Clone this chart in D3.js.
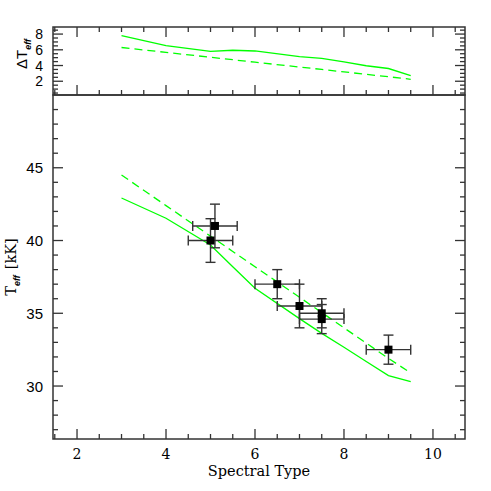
<!DOCTYPE html>
<html>
<head>
<meta charset="utf-8">
<script src="https://cdn.jsdelivr.net/npm/d3@7"></script>
<style>
    body { margin: 0; background: #fff; }
    #chart { width: 491px; height: 491px; }
    .ytick { font-family: "Liberation Sans", Arial, sans-serif; font-size: 15px; fill: #000; }
    .xtick { font-family: "DejaVu Serif", serif; font-size: 14px; fill: #000; }
</style>
</head>
<body>
<div id="chart"></div>
<script>
//Datos
const spType = [3, 4, 5, 5.5, 6, 7, 7.5, 8, 8.5, 9, 9.5];
const teffSolid = [42.92, 41.53, 39.69, 38.2, 36.72, 34.63, 33.62, 32.67, 31.69, 30.72, 30.3];
const teffDashed = [44.5, 42.4, 40.3, 39.25, 38.2, 36.1, 35.05, 34.0, 32.95, 31.9, 30.9];
const dTeffSolid = [7.79, 6.52, 5.81, 5.94, 5.85, 5.12, 4.92, 4.45, 3.97, 3.62, 2.71];
const dTeffDashed = [6.29, 5.67, 5.05, 4.74, 4.42, 3.81, 3.5, 3.19, 2.88, 2.57, 2.25];

const obsSp = [5.1, 5.0, 6.5, 7.0, 7.5, 7.5, 9.0];
const obsTeff = [41.0, 40.0, 37.0, 35.5, 35.0, 34.6, 32.5];
const obsSpErr = [0.5, 0.5, 0.5, 0.5, 0.5, 0.5, 0.5];
const obsTeffErr = [1.5, 1.5, 1.0, 1.5, 1.0, 1.0, 1.0];

const xTicks = [2, 4, 6, 8, 10];
const yTicksMain = [30, 35, 40, 45];
const yTicksTop = [2, 4, 6, 8];

const GREEN = '#00ff00', AXIS = '#333';

let left = 53, right = 465, topY = 27, midY = 95, bottomY = 439;

let svg = d3.select('#chart').append('svg')
    .attr('width', 491).attr('height', 491);

let x = d3.scaleLinear().domain([1.46, 10.72]).range([left, right]);
let y = d3.scaleLinear().domain([26.36, 50]).range([bottomY, midY]);
let yTop = d3.scaleLinear().domain([0.25, 8.9]).range([midY, topY]);

// ticks hacia dentro
function ticksX(yPos, dir) {
    let g = svg.append('g');
    d3.range(1.5, 10.51, 0.5).forEach(function(v) {
        let major = xTicks.indexOf(v) != -1;
        g.append('line')
            .attr('x1', x(v)).attr('x2', x(v))
            .attr('y1', yPos).attr('y2', yPos + dir * (major ? 10 : 5))
            .attr('stroke', AXIS).attr('stroke-width', 1.3);
    });
}

function ticksY(scale, values, majors) {
    let g = svg.append('g');
    values.forEach(function(v) {
        let major = majors.indexOf(v) != -1;
        let l = major ? 10 : 5;
        g.append('line').attr('x1', left).attr('x2', left + l)
            .attr('y1', scale(v)).attr('y2', scale(v))
            .attr('stroke', AXIS).attr('stroke-width', 1.3);
        g.append('line').attr('x1', right).attr('x2', right - l)
            .attr('y1', scale(v)).attr('y2', scale(v))
            .attr('stroke', AXIS).attr('stroke-width', 1.3);
    });
}

ticksX(topY, 1);
ticksX(midY, -1);
ticksX(bottomY, -1);
ticksY(y, d3.range(27, 50, 1), yTicksMain);
ticksY(yTop, d3.range(0.5, 8.9, 0.5), yTicksTop);

// marcos
svg.append('rect').attr('x', left).attr('y', topY)
    .attr('width', right - left).attr('height', midY - topY)
    .attr('fill', 'none').attr('stroke', AXIS).attr('stroke-width', 1.5);
svg.append('rect').attr('x', left).attr('y', midY)
    .attr('width', right - left).attr('height', bottomY - midY)
    .attr('fill', 'none').attr('stroke', AXIS).attr('stroke-width', 1.5);

// etiquetas
svg.append('g').selectAll('text').data(xTicks).enter().append('text')
    .attr('class', 'xtick')
    .attr('x', function(d) { return x(d); })
    .attr('y', 459)
    .attr('text-anchor', 'middle')
    .text(function(d) { return d; });

svg.append('g').selectAll('text').data(yTicksMain).enter().append('text')
    .attr('class', 'ytick')
    .attr('x', 43)
    .attr('y', function(d) { return y(d) + 5.5; })
    .attr('text-anchor', 'end')
    .text(function(d) { return d; });

svg.append('g').selectAll('text').data(yTicksTop).enter().append('text')
    .attr('class', 'ytick')
    .style('font-size', '14px')
    .attr('x', 43)
    .attr('y', function(d) { return yTop(d) + 5; })
    .attr('text-anchor', 'end')
    .text(function(d) { return d; });

svg.append('text')
    .attr('x', 259).attr('y', 476)
    .attr('text-anchor', 'middle')
    .style('font-family', '"DejaVu Serif", serif').style('font-size', '14.5px')
    .text('Spectral Type');

let yl = svg.append('text')
    .attr('transform', 'translate(16,267) rotate(-90)')
    .attr('text-anchor', 'middle')
    .style('font-family', '"DejaVu Serif", serif').style('font-size', '14.5px');
yl.append('tspan').text('T');
yl.append('tspan').attr('dy', 4).style('font-size', '9px').style('font-style', 'italic')
    .style('font-weight', 'bold').style('font-family', '"Liberation Sans", sans-serif').text('eff');
yl.append('tspan').attr('dy', -4).attr('dx', 6).text('[kK]');

let tl = svg.append('text')
    .attr('transform', 'translate(27,54) rotate(-90)')
    .attr('text-anchor', 'middle')
    .style('font-family', '"Liberation Sans", sans-serif').style('font-size', '15px');
tl.append('tspan').text('\u0394T');
tl.append('tspan').attr('dy', 4).style('font-size', '9px').style('font-style', 'italic')
    .style('font-weight', 'bold').text('eff');

// curvas
function curve(scale, values, dashed) {
    let line = d3.line()
        .x(function(d, i) { return x(spType[i]); })
        .y(function(d) { return scale(d); });
    svg.append('path').datum(values)
        .attr('d', line)
        .attr('fill', 'none')
        .attr('stroke', GREEN)
        .attr('stroke-width', 1.3)
        .attr('stroke-dasharray', dashed ? '8,5' : null);
}

curve(yTop, dTeffSolid, false);
curve(yTop, dTeffDashed, true);
curve(y, teffSolid, false);
curve(y, teffDashed, true);

// puntos con errores
let obs = obsSp.map(function(d, i) {
    return {sp: d, teff: obsTeff[i], ex: obsSpErr[i], ey: obsTeffErr[i]};
});
let cap = 5;
let eb = svg.append('g').attr('stroke', AXIS).attr('stroke-width', 1.4);
obs.forEach(function(d) {
    let cx = x(d.sp), cy = y(d.teff);
    eb.append('line').attr('x1', x(d.sp - d.ex)).attr('x2', x(d.sp + d.ex)).attr('y1', cy).attr('y2', cy);
    eb.append('line').attr('x1', cx).attr('x2', cx).attr('y1', y(d.teff - d.ey)).attr('y2', y(d.teff + d.ey));
    [d.sp - d.ex, d.sp + d.ex].forEach(function(v) {
        eb.append('line').attr('x1', x(v)).attr('x2', x(v)).attr('y1', cy - cap).attr('y2', cy + cap);
    });
    [d.teff - d.ey, d.teff + d.ey].forEach(function(v) {
        eb.append('line').attr('x1', cx - cap).attr('x2', cx + cap).attr('y1', y(v)).attr('y2', y(v));
    });
});

svg.append('g').selectAll('rect').data(obs).enter().append('rect')
    .attr('x', function(d) { return x(d.sp) - 4; })
    .attr('y', function(d) { return y(d.teff) - 4; })
    .attr('width', 8).attr('height', 8)
    .attr('fill', '#000');
</script>
</body>
</html>
